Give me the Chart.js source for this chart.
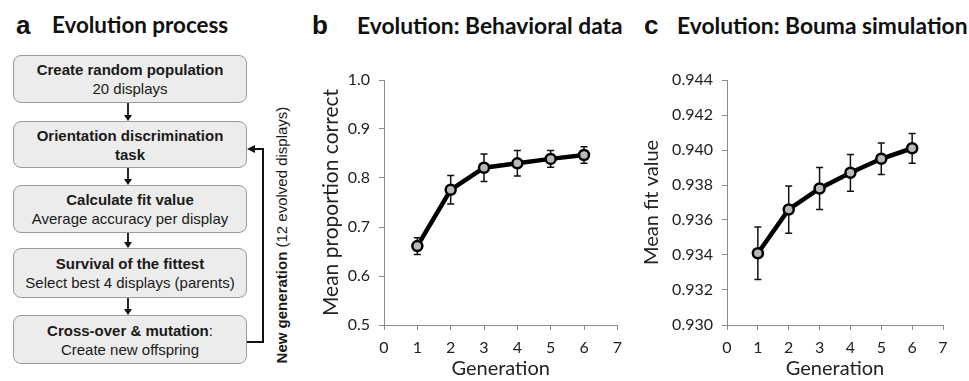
<!DOCTYPE html>
<html><head><meta charset="utf-8">
<script src="https://cdn.jsdelivr.net/npm/chart.js@4.4.1/dist/chart.umd.min.js"></script>
<style>
html,body{margin:0;padding:0;background:#fff;width:969px;height:381px;overflow:hidden;}
body{position:relative;}
.abs{position:absolute;white-space:nowrap;}
.letter{font-family:'Liberation Sans',Arial,sans-serif;font-weight:bold;font-size:26px;line-height:1;color:#111;}
.ptitle{font-family:Lato,sans-serif;font-weight:bold;font-size:22.8px;line-height:1;color:#111;}
.box{position:absolute;left:13px;width:234px;box-sizing:border-box;border:1.5px solid #9a9a9a;border-radius:8px;background:#ececec;display:flex;flex-direction:column;justify-content:center;align-items:center;font-family:'Liberation Sans',Arial,sans-serif;font-size:15px;line-height:19px;color:#1a1a1a;white-space:nowrap;}
.rot{position:absolute;left:132px;top:225px;width:300px;text-align:center;transform:rotate(-90deg);transform-origin:150px 10px;font-family:'Liberation Sans',Arial,sans-serif;font-size:15px;line-height:20px;color:#1a1a1a;white-space:nowrap;}
canvas{position:absolute;}
</style></head>
<body>
<div class="abs letter" style="left:16px;top:12px;">a</div>
<div class="abs ptitle" style="left:52px;top:14px;font-size:22.4px;">Evolution process</div>
<div class="abs letter" style="left:312px;top:12px;">b</div>
<div class="abs ptitle" style="left:357px;top:14px;">Evolution: Behavioral data</div>
<div class="abs letter" style="left:644px;top:12px;">c</div>
<div class="abs ptitle" style="left:677px;top:14px;">Evolution: Bouma simulation</div>

<div class="box" style="top:55px;height:48px;"><b>Create random population</b><span>20 displays</span></div>
<div class="box" style="top:121px;height:47px;"><b>Orientation discrimination</b><b>task</b></div>
<div class="box" style="top:185px;height:48px;"><b>Calculate fit value</b><span>Average accuracy per display</span></div>
<div class="box" style="top:248px;height:50px;"><b>Survival of the fittest</b><span>Select best 4 displays (parents)</span></div>
<div class="box" style="top:315px;height:49px;"><span><b>Cross-over &amp; mutation</b>:</span><span>Create new offspring</span></div>
<div class="rot"><b>New generation</b> (12 evolved displays)</div>

<svg class="abs" style="left:0;top:0" width="300" height="381">
  <g stroke="#111" stroke-width="1.8" fill="none">
    <line x1="128" y1="103" x2="128" y2="116"/>
    <line x1="128" y1="168" x2="128" y2="180"/>
    <line x1="128" y1="233" x2="128" y2="243"/>
    <line x1="128" y1="298" x2="128" y2="310"/>
    <polyline points="247,342 263,342 263,149 253,149" stroke-width="2"/>
  </g>
  <g fill="#111">
    <polygon points="124,115 132,115 128,121"/>
    <polygon points="124,179 132,179 128,185"/>
    <polygon points="124,242 132,242 128,248"/>
    <polygon points="124,309 132,309 128,315"/>
    <polygon points="247,149 255,145 255,153"/>
  </g>
</svg>

<canvas id="cb" width="330" height="341" style="left:300px;top:40px;"></canvas>
<canvas id="cc" width="339" height="341" style="left:630px;top:40px;"></canvas>

<script>
const generations = [1, 2, 3, 4, 5, 6];
const xTicks = [0, 1, 2, 3, 4, 5, 6, 7];
const behavioralMean = [0.661, 0.776, 0.821, 0.830, 0.839, 0.847];
const behavioralErr  = [0.017, 0.029, 0.028, 0.026, 0.017, 0.017];
const behavioralTicks = [0.5, 0.6, 0.7, 0.8, 0.9, 1.0];
const boumaMean = [0.9341, 0.9366, 0.9378, 0.9387, 0.9395, 0.9401];
const boumaErr  = [0.0015, 0.00135, 0.0012, 0.00105, 0.0009, 0.00085];
const boumaTicks = [0.930, 0.932, 0.934, 0.936, 0.938, 0.940, 0.942, 0.944];

Chart.defaults.font.family = 'Lato, sans-serif';

const errorBarPlugin = {
  id: 'errorBars',
  beforeDatasetsDraw(chart, args, opts) {
    const ctx = chart.ctx, xs = chart.scales.x, ys = chart.scales.y;
    const ds = chart.data.datasets[0];
    ctx.save();
    ctx.strokeStyle = '#111';
    ctx.lineWidth = 1.5;
    ds.data.forEach((p, i) => {
      const px = xs.getPixelForValue(p.x);
      const t = ys.getPixelForValue(p.y + opts.errors[i]);
      const b = ys.getPixelForValue(p.y - opts.errors[i]);
      ctx.beginPath();
      ctx.moveTo(px, t); ctx.lineTo(px, b);
      ctx.moveTo(px - 3.5, t); ctx.lineTo(px + 3.5, t);
      ctx.moveTo(px - 3.5, b); ctx.lineTo(px + 3.5, b);
      ctx.stroke();
    });
    ctx.restore();
  }
};

function makeChart(id, means, errs, yTicks, yTitle, yTitleSize, decimals, yWidth, yTitlePad, padRight) {
  const axisColor = '#8a8a8a';
  return new Chart(document.getElementById(id), {
    type: 'line',
    data: {
      datasets: [{
        data: generations.map((g, i) => ({ x: g, y: means[i] })),
        borderColor: '#000', borderWidth: 4.5,
        pointRadius: 5, pointBorderWidth: 2.5,
        pointBackgroundColor: '#b8b8b8', pointBorderColor: '#000',
        tension: 0, fill: false
      }]
    },
    options: {
      responsive: false, animation: false, devicePixelRatio: 1,
      layout: { padding: { top: 40, right: padRight, bottom: 0, left: 0 } },
      plugins: { legend: { display: false }, tooltip: { enabled: false }, errorBars: { errors: errs } },
      scales: {
        x: {
          type: 'linear', min: xTicks[0], max: xTicks[xTicks.length - 1],
          afterBuildTicks: s => { s.ticks = xTicks.map(v => ({ value: v })); },
          afterFit: s => { s.height = 56; },
          ticks: { font: { size: 16 }, color: '#222', padding: 8, autoSkip: false, maxRotation: 0 },
          grid: { drawOnChartArea: false, drawTicks: true, tickLength: 5, color: axisColor, lineWidth: 1 },
          border: { color: axisColor, width: 1 },
          title: { display: true, text: 'Generation', font: { size: 20 }, color: '#222', padding: { top: 0, bottom: 0 } }
        },
        y: {
          type: 'linear', min: yTicks[0], max: yTicks[yTicks.length - 1],
          afterBuildTicks: s => { s.ticks = yTicks.map(v => ({ value: v })); },
          afterFit: s => { s.width = yWidth; },
          ticks: { font: { size: 16 }, color: '#222', padding: 9, callback: v => Number(v).toFixed(decimals) },
          grid: { drawOnChartArea: false, drawTicks: true, tickLength: 5, color: axisColor, lineWidth: 1 },
          border: { color: axisColor, width: 1 },
          title: { display: true, text: yTitle, font: { size: yTitleSize }, color: '#222', padding: { top: yTitlePad, bottom: 0 } }
        }
      }
    },
    plugins: [errorBarPlugin]
  });
}

makeChart('cb', behavioralMean, behavioralErr, behavioralTicks, 'Mean proportion correct', 21, 1, 84, 19, 12);
makeChart('cc', boumaMean, boumaErr, boumaTicks, 'Mean fit value', 20, 3, 97, 10, 26);
</script>
</body></html>
